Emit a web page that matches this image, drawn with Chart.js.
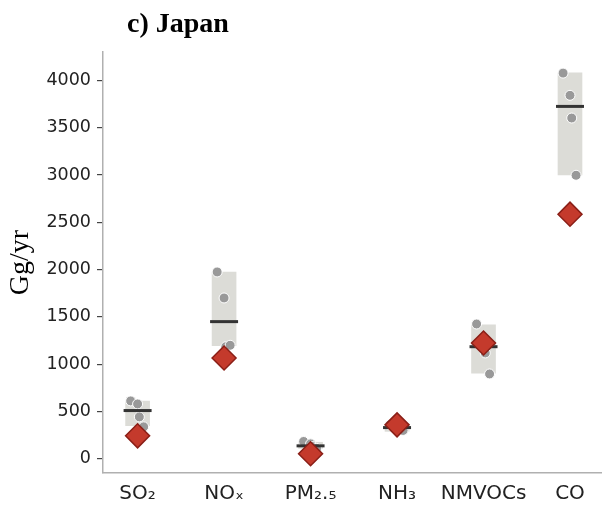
<!DOCTYPE html>
<html>
<head>
<meta charset="utf-8">
<script src="https://cdn.jsdelivr.net/npm/chart.js@4"></script>
<style>
  body { margin: 0; background: #fff; }
  canvas { display: block; }
</style>
</head>
<body>
<canvas id="chart" width="602" height="505"></canvas>
<script>
// data (Gg/yr)
const categories = ['SO₂', 'NOₓ', 'PM₂.₅', 'NH₃', 'NMVOCs', 'CO'];
const rangeLow = [350, 1195, 110, 290, 905, 3000];
const rangeHigh = [610, 1975, 175, 370, 1415, 4080];
const medians = [510, 1450, 137, 330, 1185, 3725];
const modelA = [612, 1975, 183, 360, 1425, 4077];
const modelB = [580, 1700, 158, 340, 1200, 3842];
const modelC = [443, 1185, 130, 320, 1119, 3602];
const modelD = [338, 1200, 110, 300, 897, 2997];
const inventory = [243, 1066, 53, 359, 1224, 2586];
const yTicks = [0, 500, 1000, 1500, 2000, 2500, 3000, 3500, 4000];
const jitter = [-0.08, 0.0, 0.02, 0.07];

const models = [modelA, modelB, modelC, modelD];
const dotPoints = [];
models.forEach((m, k) => {
    m.forEach((v, i) => dotPoints.push({ x: i + jitter[k], y: v }));
});

const titlePlugin = {
    id: 'panelTitle',
    afterDraw(chart) {
        const ctx = chart.ctx;
        ctx.save();
        ctx.font = 'bold 28px "Liberation Serif"';
        ctx.fillStyle = '#000';
        ctx.textBaseline = 'alphabetic';
        ctx.fillText('c) Japan', 127, 32);
        ctx.restore();
    }
};

new Chart(document.getElementById('chart'), {
    type: 'bar',
    data: {
        datasets: [
            {
                type: 'scatter',
                data: inventory.map((v, i) => ({ x: i, y: v })),
                pointStyle: 'rectRot',
                pointRadius: 12,
                backgroundColor: '#c43a2c',
                borderColor: '#8a1f17',
                borderWidth: 1.5,
                order: 0
            },
            {
                type: 'scatter',
                data: medians.map((v, i) => ({ x: i, y: v })),
                pointStyle: 'line',
                pointRadius: 14,
                borderColor: '#333333',
                borderWidth: 3,
                order: 1
            },
            {
                type: 'scatter',
                data: dotPoints,
                pointRadius: 5,
                backgroundColor: '#999999',
                borderColor: '#ffffff',
                borderWidth: 1,
                order: 2
            },
            {
                type: 'bar',
                data: rangeLow.map((v, i) => ({ x: i, y: [v, rangeHigh[i]] })),
                backgroundColor: '#dcdcd7',
                borderWidth: 0,
                barThickness: 24,
                order: 3
            }
        ]
    },
    options: {
        responsive: false,
        animation: false,
        layout: { autoPadding: false, padding: { top: 52, right: 0, left: 0, bottom: 0 } },
        plugins: {
            legend: { display: false },
            tooltip: { enabled: false },
            title: { display: false }
        },
        scales: {
            x: {
                type: 'linear',
                offset: false,
                min: -0.4,
                max: 5.37,
                afterBuildTicks: (s) => { s.ticks = categories.map((c, i) => ({ value: i })); },
                afterFit: (s) => { s.height = 32; s.paddingLeft = 0; s.paddingRight = 0; },
                grid: { display: false },
                border: { color: '#b0b0b0', width: 1.5 },
                ticks: {
                    padding: 1,
                    color: '#222',
                    font: { family: 'DejaVu Sans', size: 20 },
                    maxRotation: 0,
                    autoSkip: false,
                    callback: (v) => categories[v] ?? ''
                }
            },
            y: {
                min: -150,
                max: 4300,
                afterBuildTicks: (s) => { s.ticks = yTicks.map(v => ({ value: v })); },
                afterFit: (s) => { s.width = 103; s.paddingTop = 0; s.paddingBottom = 0; },
                grid: { drawOnChartArea: false, drawTicks: true, tickLength: 6, color: '#444', lineWidth: 1.2 },
                border: { color: '#b0b0b0', width: 1.5 },
                title: {
                    display: true,
                    text: 'Gg/yr',
                    color: '#000',
                    font: { family: 'Liberation Serif', size: 28 },
                    padding: { top: 4, bottom: 0 }
                },
                ticks: {
                    padding: 6,
                    color: '#222',
                    font: { family: 'DejaVu Sans', size: 17.5 },
                    callback: (v) => String(v)
                }
            }
        }
    },
    plugins: [titlePlugin]
});
</script>
</body>
</html>
